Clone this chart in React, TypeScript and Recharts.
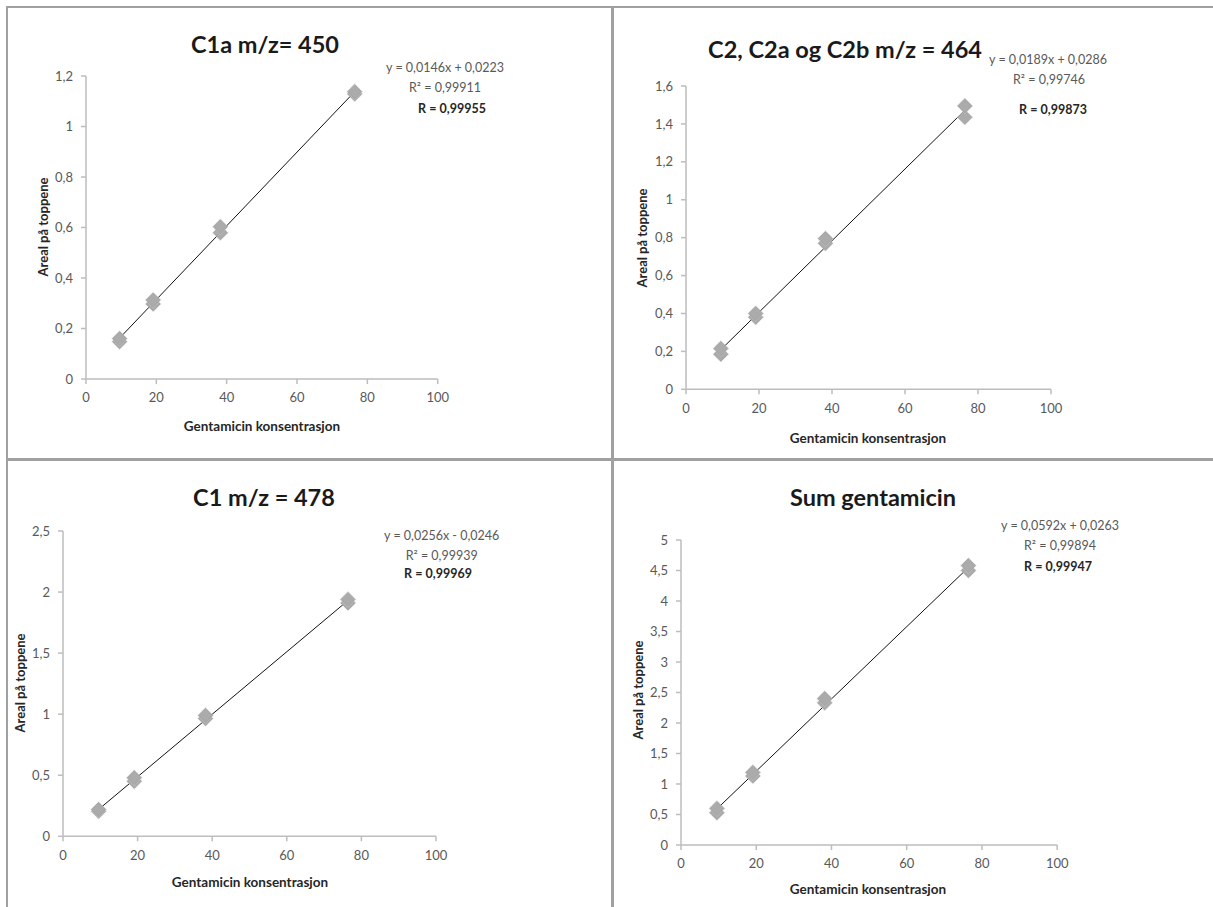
import React from "react";
import { ScatterChart, Scatter, XAxis, YAxis, ReferenceLine } from "recharts";

// konsentrasjoner (fortynningsrekke)
const conc = [9.55, 19.1, 38.2, 76.4];
const xTicks = [0, 20, 40, 60, 80, 100];

// C1a m/z 450
const c1aRep1 = [0.16, 0.313, 0.603, 1.138];
const c1aRep2 = [0.148, 0.297, 0.579, 1.129];
const c1aTrend = [0.162, 1.138];
const c1aTicks = [0, 0.2, 0.4, 0.6, 0.8, 1, 1.2];

// C2, C2a og C2b m/z 464
const c2Rep1 = [0.215, 0.4, 0.795, 1.495];
const c2Rep2 = [0.185, 0.38, 0.77, 1.435];
const c2Trend = [0.209, 1.472];
const c2Ticks = [0, 0.2, 0.4, 0.6, 0.8, 1, 1.2, 1.4, 1.6];

// C1 m/z 478
const c1Rep1 = [0.22, 0.48, 0.99, 1.94];
const c1Rep2 = [0.205, 0.45, 0.964, 1.911];
const c1Trend = [0.22, 1.931];
const c1Ticks = [0, 0.5, 1, 1.5, 2, 2.5];

// sum
const sumRep1 = [0.6, 1.19, 2.4, 4.58];
const sumRep2 = [0.53, 1.13, 2.33, 4.5];
const sumTrend = [0.592, 4.55];
const sumTicks = [0, 0.5, 1, 1.5, 2, 2.5, 3, 3.5, 4, 4.5, 5];

const FONT = "Lato, 'Open Sans', sans-serif";
const AXIS = "#bdbdbd";
const TICK = "#595959";

const toPts = (ys: number[]) => conc.map((x, i) => ({ x, y: ys[i] }));
const comma = (v: number) => String(v).replace(".", ",");

function Diamond(props: any) {
  const { cx, cy } = props;
  if (cx == null || cy == null) return <g />;
  const r = 7;
  const pts = (s: number) =>
    `${cx},${cy - s} ${cx + s},${cy} ${cx},${cy + s} ${cx - s},${cy}`;
  return (
    <g>
      <polygon points={pts(r + 1.3)} fill="#c8c8c8" opacity={0.55} />
      <polygon points={pts(r)} fill="#ababab" stroke="#a0a0a0" strokeWidth={0.8} />
    </g>
  );
}

type PanelProps = {
  title: string;
  titleAt: [number, number];
  eq: string;
  r2: string;
  r: string;
  eqAt: [number, number][];
  ylabAt: [number, number];
  xlabAt: [number, number];
  x0: number;
  x100: number;
  yBottom: number;
  yTop: number;
  yTicks: number[];
  rep1: number[];
  rep2: number[];
  trend: number[];
};

function Panel(p: PanelProps) {
  const padL = 45;
  const padR = 16;
  const padT = 10;
  const padB = 36;
  const width = p.x100 - p.x0 + padL + padR;
  const height = p.yBottom - p.yTop + padT + padB;
  const yMax = p.yTicks[p.yTicks.length - 1];
  const centered = (at: [number, number]): React.CSSProperties => ({
    position: "absolute",
    left: at[0],
    top: at[1],
    transform: "translate(-50%, -50%)",
    whiteSpace: "nowrap",
    lineHeight: 1,
    fontFamily: FONT,
  });
  return (
    <>
      <div style={{ ...centered(p.titleAt), fontSize: 23.5, fontWeight: 700, color: "#1a1a1a" }}>
        {p.title}
      </div>
      <div style={{ ...centered(p.eqAt[0]), fontSize: 12.5, color: "#595959" }}>{p.eq}</div>
      <div style={{ ...centered(p.eqAt[1]), fontSize: 12.5, color: "#595959" }}>{p.r2}</div>
      <div style={{ ...centered(p.eqAt[2]), fontSize: 12.5, fontWeight: 700, color: "#262626" }}>
        {p.r}
      </div>
      <div
        style={{
          ...centered(p.ylabAt),
          transform: "translate(-50%, -50%) rotate(-90deg)",
          fontSize: 13,
          fontWeight: 700,
          color: "#262626",
        }}
      >
        Areal på toppene
      </div>
      <div style={{ ...centered(p.xlabAt), fontSize: 13.5, fontWeight: 700, color: "#262626" }}>
        Gentamicin konsentrasjon
      </div>
      <div style={{ position: "absolute", left: p.x0 - padL, top: p.yTop - padT }}>
        <ScatterChart
          width={width}
          height={height}
          margin={{ top: padT, right: padR, left: padL - 40, bottom: padB - 30 }}
        >
          <XAxis
            type="number"
            dataKey="x"
            domain={[0, 100]}
            ticks={xTicks}
            height={30}
            stroke={AXIS}
            strokeWidth={1.5}
            tickSize={5}
            tickMargin={9}
            tick={{ fill: TICK, fontSize: 13, fontFamily: FONT }}
          />
          <YAxis
            type="number"
            dataKey="y"
            domain={[0, yMax]}
            ticks={p.yTicks}
            width={40}
            stroke={AXIS}
            strokeWidth={1.5}
            tickSize={5}
            tickMargin={8}
            tickFormatter={comma}
            tick={{ fill: TICK, fontSize: 13, fontFamily: FONT }}
          />
          <Scatter data={toPts(p.rep2)} shape={Diamond} isAnimationActive={false} />
          <Scatter data={toPts(p.rep1)} shape={Diamond} isAnimationActive={false} />
          <ReferenceLine
            segment={[
              { x: conc[0], y: p.trend[0] },
              { x: conc[conc.length - 1], y: p.trend[1] },
            ]}
            stroke="#111"
            strokeWidth={1}
          />
        </ScatterChart>
      </div>
    </>
  );
}

export default function App() {
  const line = (s: React.CSSProperties) => (
    <div style={{ position: "absolute", background: "#a0a0a0", ...s }} />
  );
  return (
    <div
      style={{
        position: "absolute",
        left: 0,
        top: 0,
        width: 1213,
        height: 907,
        background: "#fff",
        overflow: "hidden",
      }}
    >
      {line({ left: 6, top: 6, width: 1207, height: 2 })}
      {line({ left: 6, top: 6, width: 2, height: 901 })}
      {line({ left: 611, top: 6, width: 3, height: 901 })}
      {line({ left: 6, top: 458, width: 1207, height: 3 })}

      <Panel
        title="C1a m/z= 450"
        titleAt={[265, 45]}
        eq="y = 0,0146x + 0,0223"
        r2="R² = 0,99911"
        r="R = 0,99955"
        eqAt={[[445, 68], [445, 88], [452, 109]]}
        ylabAt={[43, 227]}
        xlabAt={[262, 427]}
        x0={86}
        x100={437.7}
        yBottom={379}
        yTop={76}
        yTicks={c1aTicks}
        rep1={c1aRep1}
        rep2={c1aRep2}
        trend={c1aTrend}
      />
      <Panel
        title="C2, C2a og C2b m/z = 464"
        titleAt={[845, 50]}
        eq="y = 0,0189x + 0,0286"
        r2="R² = 0,99746"
        r="R = 0,99873"
        eqAt={[[1048, 60], [1049, 80], [1053, 110]]}
        ylabAt={[642, 238]}
        xlabAt={[868, 439]}
        x0={686}
        x100={1051}
        yBottom={389.3}
        yTop={86}
        yTicks={c2Ticks}
        rep1={c2Rep1}
        rep2={c2Rep2}
        trend={c2Trend}
      />
      <Panel
        title="C1 m/z = 478"
        titleAt={[264, 498]}
        eq="y = 0,0256x - 0,0246"
        r2="R² = 0,99939"
        r="R = 0,99969"
        eqAt={[[441.7, 536], [441.7, 556], [438, 574]]}
        ylabAt={[20, 683]}
        xlabAt={[250, 883]}
        x0={62.7}
        x100={435.7}
        yBottom={836}
        yTop={530.7}
        yTicks={c1Ticks}
        rep1={c1Rep1}
        rep2={c1Rep2}
        trend={c1Trend}
      />
      <Panel
        title="Sum gentamicin"
        titleAt={[873, 498]}
        eq="y = 0,0592x + 0,0263"
        r2="R² = 0,99894"
        r="R = 0,99947"
        eqAt={[[1060, 526], [1060, 546], [1058, 567]]}
        ylabAt={[638, 690]}
        xlabAt={[868, 890]}
        x0={680.5}
        x100={1056.7}
        yBottom={845}
        yTop={540}
        yTicks={sumTicks}
        rep1={sumRep1}
        rep2={sumRep2}
        trend={sumTrend}
      />
    </div>
  );
}
